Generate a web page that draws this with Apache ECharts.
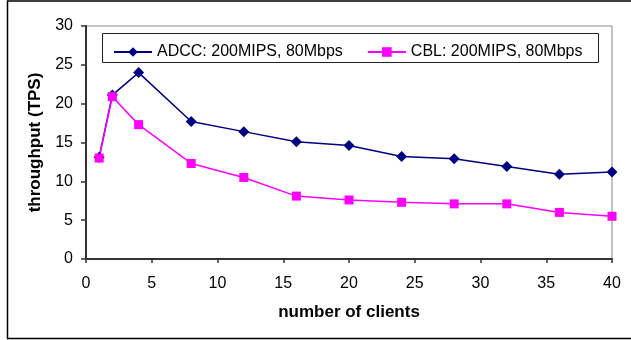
<!DOCTYPE html>
<html>
<head>
<meta charset="utf-8">
<script src="https://cdn.jsdelivr.net/npm/echarts@6/dist/echarts.min.js"></script>
<style>html,body{margin:0;padding:0;background:#fff;}#c{width:631px;height:340px;}</style>
</head>
<body>
<div id="c"></div>
<script>
var clients = [1, 2, 4, 8, 12, 16, 20, 24, 28, 32, 36, 40];
var adcc = [13.1, 21.1, 24.0, 17.7, 16.4, 15.1, 14.6, 13.2, 12.9, 11.9, 10.9, 11.2];
var cbl = [13.0, 20.9, 17.3, 12.3, 10.5, 8.1, 7.6, 7.3, 7.1, 7.1, 6.0, 5.5];
var seriesNames = ['ADCC: 200MIPS, 80Mbps', 'CBL: 200MIPS, 80Mbps'];

function pairs(xs, ys) { return xs.map(function (x, i) { return [x, ys[i]]; }); }

var font = 'Liberation Sans, Arial, sans-serif';
var chart = echarts.init(document.getElementById('c'), null, {renderer: 'canvas'});
chart.setOption({
  animation: false,
  backgroundColor: '#fff',
  graphic: [
    {type: 'rect', shape: {x: 7.5, y: 1, width: 660, height: 337.5}, style: {fill: 'none', stroke: '#000', lineWidth: 1.5}, z: 0},
    {type: 'rect', shape: {x: 102.5, y: 33.5, width: 496, height: 29}, style: {fill: '#fff', stroke: '#222', lineWidth: 1}, z: 5}
  ],
  grid: {left: 86, right: 19, top: 26, bottom: 81, show: true, borderColor: '#888', borderWidth: 1},
  legend: {
    data: seriesNames,
    left: 108, top: 39,
    itemWidth: 38, itemHeight: 12, itemGap: 24,
    textStyle: {fontFamily: font, fontSize: 16, color: '#000'},
    z: 10
  },
  xAxis: {
    type: 'value', min: 0, max: 40, interval: 5,
    name: 'number of clients', nameLocation: 'middle', nameGap: 45,
    nameTextStyle: {fontFamily: font, fontSize: 17, fontWeight: 'bold', color: '#000'},
    axisLine: {show: true, lineStyle: {color: '#333', width: 2}},
    axisTick: {show: true, length: 4, lineStyle: {color: '#333', width: 1.5}},
    axisLabel: {fontFamily: font, fontSize: 16, color: '#000', margin: 17},
    splitLine: {show: false}
  },
  yAxis: {
    type: 'value', min: 0, max: 30, interval: 5,
    name: 'throughput (TPS)', nameLocation: 'middle', nameGap: 42,
    nameTextStyle: {fontFamily: font, fontSize: 17, fontWeight: 'bold', color: '#000'},
    axisLine: {show: true, lineStyle: {color: '#333', width: 2}},
    axisTick: {show: true, length: 5, lineStyle: {color: '#333', width: 1.5}},
    axisLabel: {fontFamily: font, fontSize: 16, color: '#000', margin: 13},
    splitLine: {show: false}
  },
  series: [
    {
      name: seriesNames[0], type: 'line', data: pairs(clients, adcc),
      symbol: 'diamond', symbolSize: 11,
      lineStyle: {color: '#000080', width: 1.5},
      itemStyle: {color: '#000080'}
    },
    {
      name: seriesNames[1], type: 'line', data: pairs(clients, cbl),
      symbol: 'rect', symbolSize: 9,
      lineStyle: {color: '#FF00FF', width: 1.5},
      itemStyle: {color: '#FF00FF'}
    }
  ]
});
</script>
</body>
</html>
